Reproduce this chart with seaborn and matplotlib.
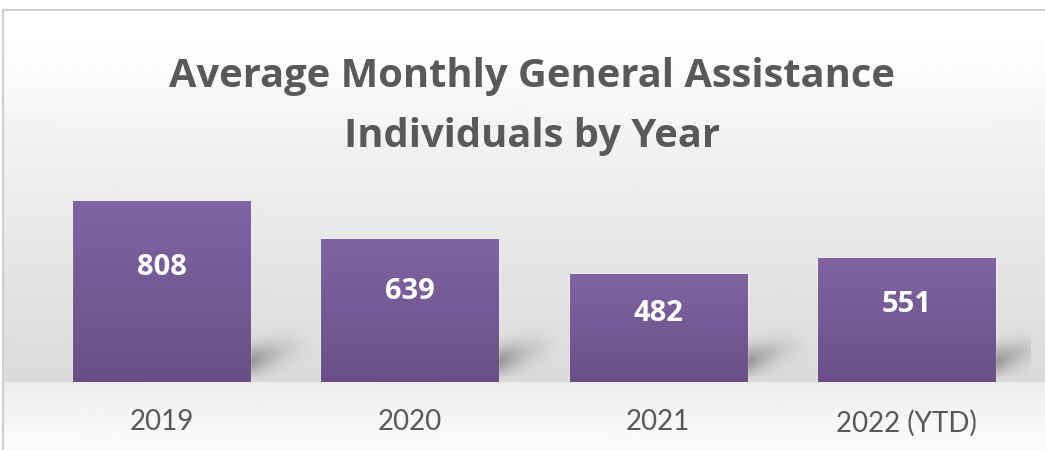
import numpy as np
import pandas as pd
import seaborn as sns
import matplotlib.pyplot as plt
from matplotlib.colors import LinearSegmentedColormap

# -----------------------
# Data
# -----------------------
years = ["2019", "2020", "2021", "2022 (YTD)"]
individuals = [808, 639, 482, 551]

title_line1 = "Average Monthly General Assistance"
title_line2 = "Individuals by Year"

df = pd.DataFrame({"Year": years, "Individuals": individuals})

sns.set_theme(style="white")
plt.rcParams["font.family"] = ["Lato", "DejaVu Sans"]
BOLD = ["Open Sans", "DejaVu Sans"]

W, H = 1045, 450
fig = plt.figure(figsize=(W / 100, H / 100), dpi=100)
fig.patch.set_facecolor("white")

# -----------------------
# Background (frame + gray gradient, light floor)
# -----------------------
bg = fig.add_axes([0, 0, 1, 1], zorder=0)
bg.set_xlim(0, W)
bg.set_ylim(H, 0)
bg.axis("off")
rows = np.arange(10, H)
shade = np.interp(rows, [10, 50, 150, 260, 381, 382, 420, 450],
                  [1.0, 0.995, 0.945, 0.9, 0.855, 0.925, 0.965, 0.985])
bg.imshow(np.tile(shade[:, None], (1, 2)), cmap="gray", vmin=0, vmax=1,
          extent=[3, W, H, 10], aspect="auto", interpolation="bilinear")
bg.plot([3, W], [10, 10], color="#d0d0d0", lw=1.5)
bg.plot([3, 3], [10, H], color="#d0d0d0", lw=1.5)

# -----------------------
# Bars
# -----------------------
ax = fig.add_axes([37.3 / W, 68.3 / H, 993.4 / W, 201.3 / H], zorder=1)
ax.patch.set_alpha(0)

sns.barplot(data=df, x="Year", y="Individuals", color="#765a97",
            saturation=1, width=0.713, ax=ax, zorder=3)
ax.set_ylim(0, 900)

bar_cmap = LinearSegmentedColormap.from_list("bar", ["#6a4f87", "#8064a2"])
px_per_unit = 201.3 / 900
px_per_cat = 993.4 / 4

# shadow stamp in pixels, relative to the bar's lower right corner
sw, sh, ox = 110, 70, 40
gx, gy = np.meshgrid(np.arange(sw) - ox, np.arange(sh))
p0 = np.array([-20.0, 14.0])
p1 = np.array([50.0, 38.0])
d = p1 - p0
L2 = d @ d
t = ((gx - p0[0]) * d[0] + (gy - p0[1]) * d[1]) / L2
t_c = np.clip(t, 0, 1)
dist = np.hypot(gx - (p0[0] + t_c * d[0]), gy - (p0[1] + t_c * d[1]))
alpha = 0.75 * np.exp(-(dist / 13) ** 2) * (1 - 0.6 * t_c) * np.clip(1.15 - t, 0, 1)
alpha *= np.clip(gy / 6.0, 0, 1)
shadow = np.zeros((sh, sw, 4))
shadow[..., :3] = 0.35
shadow[..., 3] = np.clip(alpha, 0, 1)

for p in ax.patches:
    x0, y0 = p.get_x(), p.get_y()
    w, h = p.get_width(), p.get_height()
    grad = np.linspace(0, 1, 100)[:, None]
    im = ax.imshow(grad, cmap=bar_cmap, origin="lower", aspect="auto",
                   extent=[x0, x0 + w, y0, y0 + h], zorder=4)
    im.set_clip_path(p)

    xr = x0 + w
    ax.imshow(shadow, origin="lower", aspect="auto", interpolation="bilinear",
              extent=[xr - ox / px_per_cat, xr + (sw - ox) / px_per_cat,
                      0, sh / px_per_unit], zorder=2)

ax.set_xlim(-0.5, 3.5)
ax.set_ylim(0, 900)

for i, v in enumerate(individuals):
    ax.text(i, v * 0.63, str(v), ha="center", va="center", color="white",
            fontsize=21, fontweight="bold", family=BOLD, zorder=5)

ax.set_xlabel("")
ax.set_ylabel("")
ax.set_yticks([])
ax.tick_params(axis="x", length=0, pad=20, labelsize=20, labelcolor="#595959")
sns.despine(ax=ax, left=True, bottom=True)

# -----------------------
# Title
# -----------------------
fig.text(532 / W, 1 - 86.7 / H, title_line1, ha="center", va="baseline",
         fontsize=28.7, fontweight="bold", family=BOLD, color="#595959")
fig.text(532 / W, 1 - 146.5 / H, title_line2, ha="center", va="baseline",
         fontsize=28.7, fontweight="bold", family=BOLD, color="#595959")

fig.savefig("out.png", dpi=100)
